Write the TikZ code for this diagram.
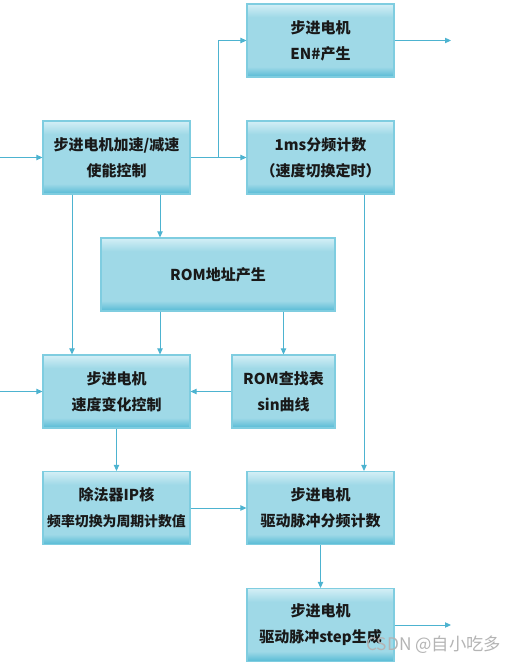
\documentclass[tikz,border=0pt]{standalone}
\usepackage{fontspec}
\setmainfont{Noto Sans CJK SC}
\newfontfamily\cjk{Noto Sans CJK SC}
\usetikzlibrary{arrows.meta,calc}
\definecolor{bxlight}{HTML}{D4EFF6}
\definecolor{bxmid}{HTML}{9FD9E7}
\definecolor{bxdark}{HTML}{56BAD5}
\definecolor{bxborder}{HTML}{7FCDE0}
\definecolor{lnc}{HTML}{4DB3D0}
\definecolor{wmk}{HTML}{B4B4B4}
\pgfdeclareverticalshading{boxshade}{100bp}{color(0bp)=(bxdark); color(25bp)=(bxdark); color(32bp)=(bxmid); color(66bp)=(bxmid); color(75bp)=(bxlight); color(100bp)=(bxlight)}
\tikzset{
  box/.style={draw=bxborder, line width=0.8pt, shading=boxshade, inner sep=0pt,
    minimum width=110.25pt, minimum height=54.75pt, align=center, text=black!90,
    font=\cjk\bfseries\fontsize{11.25}{19.5}\selectfont},
  arr/.style={draw=lnc, line width=0.75pt, -{Triangle[length=4.5pt,width=4pt]}},
}
\begin{document}
\begin{tikzpicture}[x=0.75pt,y=-0.75pt]
\useasboundingbox (0,0) rectangle (519,663);
\node[box] (A) at (116.5,157.5) {步进电机加速/减速\\使能控制};
\node[box] (EN) at (320.5,40.5) {步进电机\\EN\#产生};
\node[box] (MS) at (320.5,157.5) {1ms分频计数\\（速度切换定时）};
\node[box, minimum width=175.5pt] (ROMA) at (218,274.5) {ROM地址产生};
\node[box] (SPD) at (116.5,391.5) {步进电机\\速度变化控制};
\node[box, minimum width=77.25pt] (LUT) at (283.5,391.5) {ROM查找表\\sin曲线};
\node[box, font=\cjk\bfseries\fontsize{10.4}{19.5}\selectfont] (DIV) at (116.5,508) {{\fontsize{11.25}{19.5}\selectfont 除法器IP核}\\频率切换为周期计数值};
\node[box] (DRV) at (320.5,508) {步进电机\\驱动脉冲分频计数};
\node[box] (STEP) at (320.5,625) {步进电机\\驱动脉冲step生成};

\coordinate (inA) at (0,157.5);
\coordinate (inS) at (0,391.5);
\coordinate (br) at (218,157.5);
\coordinate (outEN) at (451,40.5);
\coordinate (outST) at (451,625);
\coordinate (a1) at ($(A.south)+(-44.5,0)$);
\coordinate (a2) at ($(A.south)+(43.5,0)$);
\coordinate (m1) at ($(MS.south)+(43.5,0)$);

\draw[arr] (inA) -- (A.west);
\draw[arr] (A.east) -- (MS.west);
\draw[arr] (br) |- (EN.west);
\draw[arr] (EN.east) -- (outEN);
\draw[arr] (a1) -- (a1 |- SPD.north);
\draw[arr] (a2) -- (a2 |- ROMA.north);
\draw[arr] (ROMA.south -| a2) -- (SPD.north -| a2);
\draw[arr] (ROMA.south -| LUT.north) -- (LUT.north);
\draw[arr] (m1) -- (m1 |- DRV.north);
\draw[arr] (LUT.west) -- (SPD.east);
\draw[arr] (inS) -- (SPD.west);
\draw[arr] (SPD.south) -- (DIV.north);
\draw[arr] (DIV.east) -- (DRV.west);
\draw[arr] (DRV.south) -- (STEP.north);
\draw[arr] (STEP.east) -- (outST);

\node[anchor=west, inner sep=0pt, text=wmk, font=\cjk\fontsize{13}{14}\selectfont] (wm) at (366,645) {CSDN @自小吃多};
\end{tikzpicture}
\end{document}
